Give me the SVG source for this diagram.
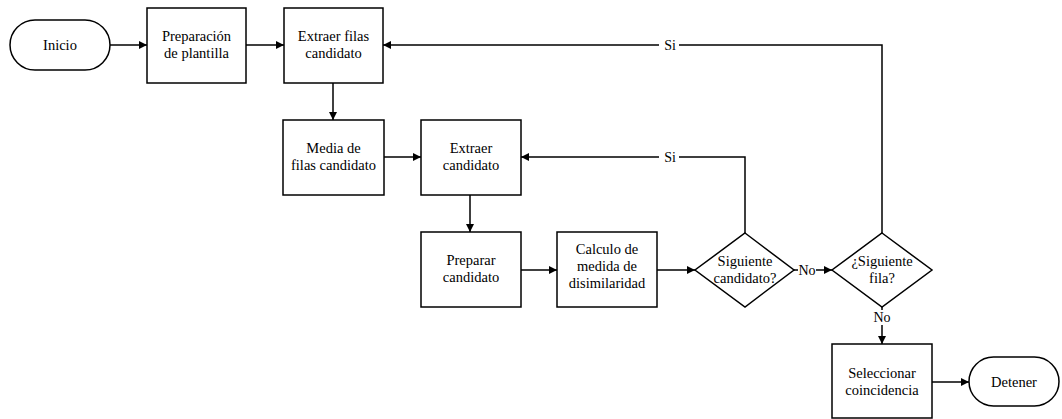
<svg xmlns="http://www.w3.org/2000/svg" width="1062" height="419" viewBox="0 0 1062 419" font-family="Liberation Serif, DejaVu Serif, serif">
  <defs>
    <marker id="arrow" viewBox="0 0 10 10" refX="10" refY="5" markerWidth="10" markerHeight="8" markerUnits="userSpaceOnUse" orient="auto">
      <path d="M0,0 L10,5 L0,10 z" fill="#000"/>
    </marker>
    <style>
      .shape { fill: #fff; stroke: #000; stroke-width: 1.5; }
      .line { fill: none; stroke: #000; stroke-width: 1.5; }
      .arr { marker-end: url(#arrow); }
      .t { font-size: 14.5px; fill: #000; text-anchor: middle; }
      .lbl { font-size: 14px; }
    </style>
  </defs>

  <rect width="1062" height="419" fill="#fff"/>

  <!-- connectors -->
  <g id="connectors">
    <path class="line arr" d="M110,45 H147"/>
    <path class="line arr" d="M246,45 H284"/>
    <path class="line arr" d="M333,83 V120"/>
    <path class="line arr" d="M384,157 H421"/>
    <path class="line arr" d="M470,195 V232"/>
    <path class="line arr" d="M521,270 H557"/>
    <path class="line arr" d="M657,270 H695"/>
    <!-- Siguiente candidato? : No -->
    <path class="line arr" d="M794,270 H832"/>
    <rect x="798" y="262" width="18" height="15" fill="#fff"/>
    <text class="t lbl" x="807" y="274.5">No</text>
    <!-- Siguiente candidato? : Si -->
    <path class="line arr" d="M745,233 V157 H521"/>
    <rect x="659" y="149" width="20" height="16" fill="#fff"/>
    <text class="t lbl" x="670" y="162">Si</text>
    <!-- ¿Siguiente fila? : Si -->
    <path class="line arr" d="M882,233 V45 H383"/>
    <rect x="659" y="37" width="20" height="16" fill="#fff"/>
    <text class="t lbl" x="670" y="50">Si</text>
    <!-- ¿Siguiente fila? : No -->
    <path class="line arr" d="M882,307 V344"/>
    <rect x="873" y="310" width="18" height="15" fill="#fff"/>
    <text class="t lbl" x="882" y="322">No</text>
    <path class="line arr" d="M932,382 H969"/>
  </g>

  <g id="inicio">
    <rect class="shape" x="10" y="20" width="100" height="50" rx="25" ry="25"/>
    <text class="t" x="60" y="50">Inicio</text>
  </g>

  <g id="preparacion-plantilla">
    <rect class="shape" x="147" y="8" width="99" height="75"/>
    <text class="t" x="196.5" y="40.5">Preparación</text>
    <text class="t" x="196.5" y="57.5">de plantilla</text>
  </g>

  <g id="extraer-filas">
    <rect class="shape" x="284" y="8" width="99" height="75"/>
    <text class="t" x="333.5" y="40.5">Extraer filas</text>
    <text class="t" x="333.5" y="57.5">candidato</text>
  </g>

  <g id="media-filas">
    <rect class="shape" x="283" y="120" width="101" height="75"/>
    <text class="t" x="333.5" y="153">Media de</text>
    <text class="t" x="333.5" y="170">filas candidato</text>
  </g>

  <g id="extraer-candidato">
    <rect class="shape" x="421" y="120" width="100" height="75"/>
    <text class="t" x="471" y="153">Extraer</text>
    <text class="t" x="471" y="170">candidato</text>
  </g>

  <g id="preparar-candidato">
    <rect class="shape" x="421" y="232" width="100" height="75"/>
    <text class="t" x="471" y="265">Preparar</text>
    <text class="t" x="471" y="282">candidato</text>
  </g>

  <g id="calculo-disimilaridad">
    <rect class="shape" x="557" y="232" width="100" height="75"/>
    <text class="t" x="607" y="254">Calculo de</text>
    <text class="t" x="607" y="271">medida de</text>
    <text class="t" x="607" y="288">disimilaridad</text>
  </g>

  <g id="siguiente-candidato">
    <polygon class="shape" points="745,233 794,270 745,307 695,270"/>
    <text class="t" x="745" y="266">Siguiente</text>
    <text class="t" x="745" y="283">candidato?</text>
  </g>

  <g id="siguiente-fila">
    <polygon class="shape" points="882,233 932,270 882,307 832,270"/>
    <text class="t" x="882" y="266">¿Siguiente</text>
    <text class="t" x="882" y="283">fila?</text>
  </g>

  <g id="seleccionar-coincidencia">
    <rect class="shape" x="832" y="344" width="100" height="74"/>
    <text class="t" x="882" y="378">Seleccionar</text>
    <text class="t" x="882" y="395">coincidencia</text>
  </g>

  <g id="detener">
    <rect class="shape" x="969" y="357" width="90" height="49" rx="24.5" ry="24.5"/>
    <text class="t" x="1014" y="386.5">Detener</text>
  </g>
</svg>
